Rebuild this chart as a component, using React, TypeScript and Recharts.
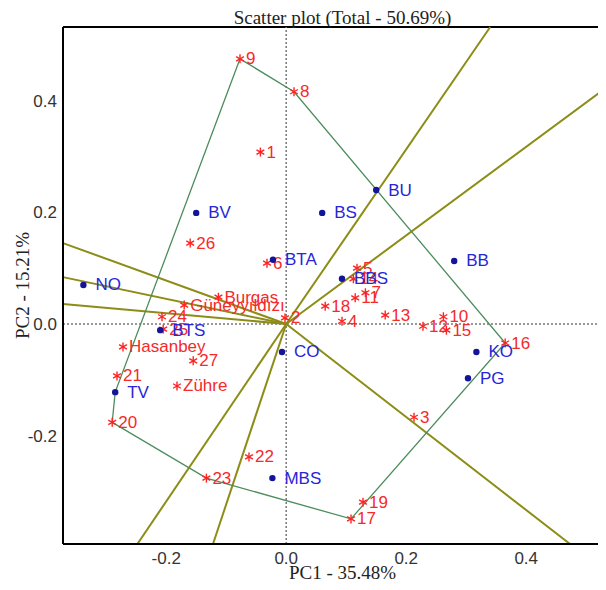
import React from "react"
import { ReferenceLine, Scatter, ScatterChart, XAxis, YAxis } from "recharts"

// genotypes (red stars)
const genoNames = ['1','2','3','4','5','6','7','8','9','10','11','12','13','14','15','16','17','18','19','20','21','22','23','24','25','26','27','Burgas','Güneyyıldızı','Hasanbey','Zühre']
const genoPC1 = [-0.043,-0.002,0.213,0.093,0.118,-0.032,0.132,0.013,-0.077,0.262,0.115,0.228,0.165,0.112,0.267,0.365,0.108,0.065,0.128,-0.29,-0.282,-0.062,-0.133,-0.207,-0.205,-0.16,-0.155,-0.113,-0.17,-0.272,-0.182]
const genoPC2 = [0.308,0.011,-0.167,0.005,0.1,0.109,0.056,0.416,0.475,0.013,0.047,-0.004,0.016,0.081,-0.011,-0.034,-0.349,0.032,-0.319,-0.176,-0.093,-0.238,-0.276,0.013,-0.009,0.145,-0.066,0.048,0.034,-0.041,-0.111]

// traits (blue dots)
const envNames = ['BU','BS','BV','BTA','BB','BBS','NO','BTS','CO','KO','PG','TV','MBS']
const envPC1 = [0.15,0.06,-0.15,-0.022,0.28,0.093,-0.338,-0.21,-0.007,0.317,0.303,-0.285,-0.023]
const envPC2 = [0.24,0.199,0.199,0.115,0.113,0.081,0.07,-0.011,-0.05,-0.05,-0.097,-0.122,-0.276]

// polygon vertices, in order
const hull = ['9','8','16','17','23','20','TV','9']

// ray ends from the origin
const rayPC1 = [0.34,0.533,0.473,-0.122,-0.248,-0.372,-0.372,-0.372]
const rayPC2 = [0.532,0.423,-0.394,-0.394,-0.394,0.145,0.084,0.036]

const xTicks = [-0.2,0,0.2,0.4]
const yTicks = [-0.2,0,0.2,0.4]
const xDomain = [-0.372,0.533]
const yDomain = [-0.394,0.532]

const genoData = genoNames.map((n,i)=>({name:n,x:genoPC1[i],y:genoPC2[i]}))
const envData = envNames.map((n,i)=>({name:n,x:envPC1[i],y:envPC2[i]}))
const allPts = [...genoData,...envData]
const hullData = hull.map(n=>allPts.find(p=>p.name===n)!)

const sans = "'Liberation Sans', Arial, sans-serif"
const serif = "'Liberation Serif', 'Times New Roman', serif"

const Star = (props:any) => {
  const {cx,cy,payload} = props
  const r = 4.5
  return (
    <g>
      {[90,30,150].map(a=>{
        const dx = r*Math.cos(a*Math.PI/180), dy = r*Math.sin(a*Math.PI/180)
        return <line key={a} x1={cx-dx} y1={cy-dy} x2={cx+dx} y2={cy+dy} stroke="#ff2222" strokeWidth={1.4}/>
      })}
      <text x={cx+6} y={cy} dominantBaseline="central" fill="#f52a2a" fontSize={17} fontFamily={sans}>{payload.name}</text>
    </g>
  )
}

const Dot = (props:any) => {
  const {cx,cy,payload} = props
  return (
    <g>
      <circle cx={cx} cy={cy} r={3.2} fill="#14149a"/>
      <text x={cx+12} y={cy} dominantBaseline="central" fill="#2626d8" fontSize={17} fontFamily={sans}>{payload.name}</text>
    </g>
  )
}

const NoShape = () => <g/>

const App = () => {
  return (
    <div style={{width:598,height:574,overflow:'hidden'}}>
      <ScatterChart width={598} height={574} margin={{top:19,right:0,bottom:0,left:0}}>
        <XAxis type="number" dataKey="x" domain={xDomain} ticks={xTicks} allowDataOverflow
          tickFormatter={(v:number)=>v.toFixed(1)} height={38} tickSize={0} tickMargin={8}
          axisLine={{stroke:'#000',strokeWidth:2}} tick={{fill:'#333',fontSize:17,fontFamily:sans}}
          label={{value:'PC1 - 35.48%',position:'insideBottom',offset:3,fill:'#222',fontSize:19,fontFamily:serif,dx:8}}/>
        <YAxis type="number" dataKey="y" domain={yDomain} ticks={yTicks} allowDataOverflow
          tickFormatter={(v:number)=>v.toFixed(1)} width={55} tickSize={0} tickMargin={6}
          axisLine={{stroke:'#000',strokeWidth:2}} tick={{fill:'#333',fontSize:17,fontFamily:sans}}
          label={{value:'PC2 - 15.21%',angle:-90,position:'insideLeft',offset:14,fill:'#222',fontSize:19,fontFamily:serif,style:{textAnchor:'middle'}}}/>
        <ReferenceLine y={yDomain[1]} stroke="#000" strokeWidth={2}
          label={{value:'Scatter plot (Total - 50.69%)',position:'top',offset:3,fill:'#222',fontSize:19,fontFamily:serif,dx:8}}/>
        <ReferenceLine x={0} stroke="#777" strokeDasharray="2 2" strokeWidth={1.5}/>
        <ReferenceLine y={0} stroke="#777" strokeDasharray="2 2" strokeWidth={1.5}/>
        {rayPC1.map((rx,i)=>(
          <ReferenceLine key={i} segment={[{x:0,y:0},{x:rx,y:rayPC2[i]}]} stroke="#8c8c16" strokeWidth={2}/>
        ))}
        <Scatter data={hullData} line={{stroke:'#4c8c5c',strokeWidth:1.3}} shape={NoShape} isAnimationActive={false}/>
        <Scatter data={genoData} shape={Star} isAnimationActive={false}/>
        <Scatter data={envData} shape={Dot} isAnimationActive={false}/>
      </ScatterChart>
    </div>
  )
}

export default App
